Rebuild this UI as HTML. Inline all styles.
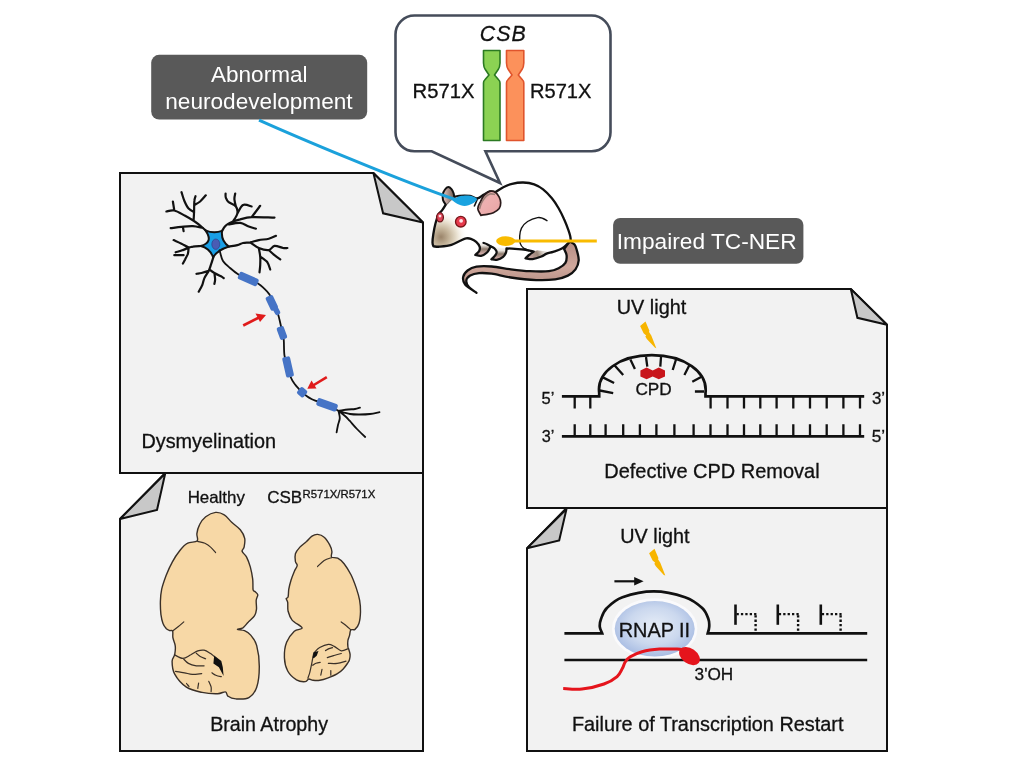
<!DOCTYPE html>
<html><head><meta charset="utf-8">
<style>
html,body{margin:0;padding:0;background:#fff;width:1024px;height:768px;overflow:hidden}
svg{position:absolute;left:0;top:0;display:block;will-change:transform}
text{font-family:"Liberation Sans",sans-serif;}
</style></head>
<body>
<svg width="1024" height="768" viewBox="0 0 1024 768">
<defs>

<linearGradient id="tailg" x1="0" y1="0" x2="0" y2="1">
<stop offset="0" stop-color="#b48c84"/><stop offset="0.5" stop-color="#d0a89c"/><stop offset="1" stop-color="#a8827a"/>
</linearGradient>
<linearGradient id="legg" gradientUnits="userSpaceOnUse" x1="0" y1="242" x2="0" y2="256">
<stop offset="0" stop-color="#ffffff"/><stop offset="0.25" stop-color="#e8e2dc"/><stop offset="0.5" stop-color="#8c7a6c"/><stop offset="0.8" stop-color="#c8a4a0"/><stop offset="1" stop-color="#d8b8b4"/>
</linearGradient>
<linearGradient id="legg2" gradientUnits="userSpaceOnUse" x1="0" y1="246.5" x2="0" y2="260">
<stop offset="0" stop-color="#ffffff"/><stop offset="0.3" stop-color="#e8e2dc"/><stop offset="0.55" stop-color="#8c7a6c"/><stop offset="0.85" stop-color="#c8a4a0"/><stop offset="1" stop-color="#d8b8b4"/>
</linearGradient>
<linearGradient id="legg3" gradientUnits="userSpaceOnUse" x1="550" y1="250" x2="530" y2="259">
<stop offset="0" stop-color="#ffffff"/><stop offset="0.35" stop-color="#d8d0c8"/><stop offset="0.6" stop-color="#9a8678"/><stop offset="1" stop-color="#c8a4a0"/>
</linearGradient>
<radialGradient id="snoutg" gradientUnits="userSpaceOnUse" cx="441" cy="237" r="27">
<stop offset="0" stop-color="#9a846a"/><stop offset="0.3" stop-color="#c4b49a"/><stop offset="0.6" stop-color="#eae2d2"/><stop offset="1" stop-color="#ffffff" stop-opacity="0"/>
</radialGradient>
<linearGradient id="bearg" x1="0" y1="0" x2="1" y2="0">
<stop offset="0" stop-color="#e8c8c4"/><stop offset="1" stop-color="#6a5a50"/>
</linearGradient>
<linearGradient id="fearg" x1="0" y1="0" x2="1" y2="1">
<stop offset="0" stop-color="#c8a8a0"/><stop offset="0.4" stop-color="#eeb0b0"/><stop offset="1" stop-color="#e8a4a4"/>
</linearGradient>

<radialGradient id="rnap" cx="0.5" cy="0.45" r="0.55">
<stop offset="0" stop-color="#e6edf7"/>
<stop offset="0.6" stop-color="#cbd8ee"/>
<stop offset="1" stop-color="#a9bde3"/>
</radialGradient>
</defs>
<g id="panels" stroke="#111" stroke-width="2" stroke-linejoin="miter" stroke-miterlimit="2" fill="#f2f2f2">
<path d="M120,173 L373.4,173 L423,222.5 L423,473 L120,473 Z"/>
<path d="M373.4,173 L383.1,213.3 L423,222.5 Z" fill="#c8c8c8"/>
<path d="M165.2,473 L423,473 L423,751 L120,751 L120,519 Z"/>
<path d="M165.2,473.5 L157,510 L120,519 Z" fill="#c8c8c8"/>
<path d="M527,289 L850.8,289 L887,324.7 L887,508 L527,508 Z"/>
<path d="M850.8,289 L857.4,317.8 L887,324.7 Z" fill="#c8c8c8"/>
<path d="M566.5,508 L887,508 L887,751 L527,751 L527,548.3 Z"/>
<path d="M566.5,509 L559.2,540.4 L527,548.3 Z" fill="#c8c8c8"/>
</g>
<rect x="151.2" y="54.8" width="216" height="64.7" rx="8" fill="#595959"/>
<rect x="613.1" y="218" width="190.3" height="45.8" rx="7" fill="#595959"/>
<path d="M414.5,15.5 L591.5,15.5 A19,19 0 0 1 610.5,34.5 L610.5,132.3 A19,19 0 0 1 591.5,151.3 L485.4,151.3 L500,183 L431.7,151.3 L414.5,151.3 A19,19 0 0 1 395.5,132.3 L395.5,34.5 A19,19 0 0 1 414.5,15.5 Z" fill="#fff" stroke="#454c5a" stroke-width="2.6" stroke-linejoin="miter"/>
<path d="M483.5,50.5 L500,50.5 L500,63 Q499.7,67.5 498.5,69 L494.5,75 L498.8,80 Q500,81 500,83 L500,140.5 L483.5,140.5 L483.5,83 Q483.5,81 484.7,80 L489.0,75 L485.0,69 Q483.8,67.5 483.5,63 Z" fill="#8bd253" stroke="#2b7a22" stroke-width="1.6" stroke-linejoin="round"/>
<path d="M506.5,50.5 L523.8,50.5 L523.8,63 Q523.5,67.5 522.3,69 L518.3,75 L522.5999999999999,80 Q523.8,81 523.8,83 L523.8,140.5 L506.5,140.5 L506.5,83 Q506.5,81 507.7,80 L512.0,75 L508.0,69 Q506.8,67.5 506.5,63 Z" fill="#fc915b" stroke="#e0542c" stroke-width="1.6" stroke-linejoin="round"/>
<g id="cpd" stroke="#111" fill="none">
<path d="M561.9,396.3 H599.2 V393 C596.5,372 620,355.2 651.8,355.2 C684,355.2 708,372 705.5,393 V396.3 H864.2" stroke-width="2.7"/>
<path d="M561.9,436.3 H864.2" stroke-width="2.7"/>
<path d="M574.7,396 V408.6 M590.3,396 V408.6 M710.6,396 V408.6 M727.5,396 V408.6 M744,396 V408.6 M760.3,396 V408.6 M776.6,396 V408.6 M793.3,396 V408.6 M810,396 V408.6 M826.7,396 V408.6 M843.4,396 V408.6 M860,396 V408.6" stroke-width="2.3"/>
<path d="M574.7,436.5 V424.2 M590.3,436.5 V424.2 M605.6,436.5 V424.2 M623.2,436.5 V424.2 M639.9,436.5 V424.2 M656.4,436.5 V424.2 M674.4,436.5 V424.2 M693.6,436.5 V424.2 M710.5,436.5 V424.2 M727.5,436.5 V424.2 M744,436.5 V424.2 M760.3,436.5 V424.2 M776.6,436.5 V424.2 M793.3,436.5 V424.2 M810,436.5 V424.2 M826.7,436.5 V424.2 M843.4,436.5 V424.2 M860,436.5 V424.2" stroke-width="2.3"/>
<path d="M599.8,390.5 L613.2,393.1 M602.4,377.1 L614.1,383 M614.7,365.4 L623.2,374.9 M630.4,359.5 L634.9,368.9 M646,357 L647.3,366.7 M661,357 L660.3,366.7 M676,359.5 L672.7,370 M689.6,364.7 L684.4,374.9 M702,376.5 L692.3,381.7 M704,391.5 L694.9,391.5" stroke-width="2.3"/>
</g>
<path d="M640.4,370.4 L646.6,367.5 L652.7,370.4 L658.8,367.5 L665,370.4 L665,376.4 L658.8,379.3 L652.7,376.4 L646.6,379.3 L640.4,376.4 Z" fill="#c8151b"/>
<path d="M640.1,325.9 L645.5,321.4 L649.5,331.0 L648.9,331.8 L651.3,335.5 L656.3,348.3 L654.8,347.6 L646.8,339.0 L645.3,336.5 L646.2,335.5 L643.6,333.2 Z" fill="#f7b500"/>
<path d="M649.1,553.2 L654.5,548.7 L658.5,558.3 L657.9,559.1 L660.3,562.8 L665.3,575.6 L663.8,574.9 L655.8,566.3 L654.3,563.8 L655.2,562.8 L652.6,560.5 Z" fill="#f7b500"/>
<g id="tx">
<ellipse cx="654.7" cy="628.8" rx="41.2" ry="29" fill="none" stroke="#fbfbfd" stroke-width="3" opacity="0.9"/>
<ellipse cx="654.7" cy="628.8" rx="40" ry="27.75" fill="url(#rnap)"/>
<path d="M564.4,633.4 H602.2 C601.8,632.3 600.0,629.3 599.8,626.9 C599.6,624.5 599.8,622.1 601.0,619.0 C602.2,615.9 603.3,611.6 606.9,608.0 C610.5,604.4 614.7,600.0 622.5,597.2 C630.3,594.4 643.3,591.3 653.8,591.3 C664.2,591.3 676.9,594.4 685.0,597.2 C693.1,600.0 698.3,604.4 702.2,608.0 C706.1,611.6 707.2,615.9 708.4,619.0 C709.6,622.1 709.3,624.5 709.2,626.9 C709.1,629.3 708.0,632.3 707.7,633.4 H867.2" fill="none" stroke="#111" stroke-width="2.7"/>
<path d="M564.4,660 H867.2" stroke="#111" stroke-width="2.7"/>
<path d="M614.4,581.3 H636" stroke="#111" stroke-width="2.2"/><path d="M634.2,577 L643.6,581.3 L634.2,585.6 Z" fill="#111"/>
<path d="M735.5,604.5 V624.8" stroke="#111" stroke-width="2.6"/>
<path d="M736.5,614.1 H756.6" stroke="#111" stroke-width="2.4" stroke-dasharray="2.3 2.1"/>
<path d="M755.6,615.2 V633" stroke="#111" stroke-width="2.4" stroke-dasharray="2.3 2.1"/>
<path d="M777.8,604.5 V624.8" stroke="#111" stroke-width="2.6"/>
<path d="M778.8,614.1 H799.1" stroke="#111" stroke-width="2.4" stroke-dasharray="2.3 2.1"/>
<path d="M798.1,615.2 V633" stroke="#111" stroke-width="2.4" stroke-dasharray="2.3 2.1"/>
<path d="M820.8,604.5 V624.8" stroke="#111" stroke-width="2.6"/>
<path d="M821.8,614.1 H841.6" stroke="#111" stroke-width="2.4" stroke-dasharray="2.3 2.1"/>
<path d="M840.6,615.2 V633" stroke="#111" stroke-width="2.4" stroke-dasharray="2.3 2.1"/>
<path d="M563.2,688.6 C566.3,688.7 575.2,689.9 582.0,689.1 C588.8,688.3 598.1,686.1 604.0,684.0 C609.9,681.9 614.1,679.2 617.1,676.6 C620.1,674.0 620.9,671.0 622.3,668.6 C623.6,666.2 623.9,664.0 625.2,662.0 C626.5,660.0 627.5,658.5 630.3,656.8 C633.1,655.1 637.1,653.0 642.0,651.7 C646.9,650.4 653.7,649.5 659.6,649.1 C665.5,648.7 673.1,649.0 677.2,649.1 C681.3,649.2 682.9,649.9 684.0,650.0" fill="none" stroke="#e5141c" stroke-width="3"/>
<ellipse cx="689.5" cy="656.1" rx="11.5" ry="7.6" transform="rotate(35 689.5 656.1)" fill="#e5141c"/>
</g>
<path d="M215.6,512.4 C212.5,512.7 208.4,514.7 205.7,516.8 C203.0,518.9 200.9,522.0 199.5,524.8 C198.0,527.6 197.2,530.9 196.9,533.6 C196.5,536.3 198.7,539.3 197.1,540.9 C195.5,542.5 190.1,541.7 187.2,543.4 C184.3,545.0 182.1,547.7 179.7,550.8 C177.2,553.9 174.6,557.8 172.4,561.9 C170.1,566.0 167.9,571.0 166.1,575.5 C164.4,580.1 162.7,584.8 161.7,589.1 C160.8,593.4 160.5,597.1 160.4,601.3 C160.3,605.5 160.5,610.6 160.9,614.3 C161.4,618.0 162.1,621.1 163.0,623.4 C163.9,625.8 165.1,627.2 166.1,628.4 C167.2,629.5 168.4,630.0 169.5,630.5 C170.6,630.9 172.1,629.8 172.6,631.0 C173.2,632.2 172.5,635.3 172.9,637.7 C173.3,640.2 174.9,642.7 175.2,645.6 C175.6,648.4 175.2,652.1 174.7,654.7 C174.2,657.3 172.1,657.9 172.1,661.2 C172.1,664.4 172.3,669.8 174.7,674.2 C177.1,678.5 181.9,684.2 186.4,687.2 C191.0,690.2 196.9,691.3 202.1,692.4 C207.3,693.5 213.8,693.8 217.7,693.7 C221.6,693.6 223.7,691.4 225.5,691.9 C227.2,692.3 226.3,695.1 228.1,696.3 C229.8,697.5 232.4,698.7 235.9,698.9 C239.4,699.1 245.4,699.6 248.9,697.6 C252.4,695.7 255.0,692.4 256.7,687.2 C258.5,682.0 259.3,673.3 259.3,666.4 C259.3,659.4 258.1,650.8 256.7,645.6 C255.3,640.3 252.8,637.6 250.7,635.1 C248.7,632.7 246.7,631.7 244.5,630.7 C242.3,629.8 237.7,629.9 237.5,629.4 C237.2,628.9 241.1,629.1 242.9,627.9 C244.7,626.6 246.4,623.9 248.4,621.9 C250.3,619.8 253.3,617.7 254.6,615.6 C256.0,613.5 256.2,611.7 256.5,609.1 C256.7,606.6 256.0,602.6 256.2,600.3 C256.4,597.9 257.9,596.2 257.8,594.8 C257.6,593.4 255.9,592.5 255.2,591.7 C254.4,590.8 253.5,591.9 253.1,589.9 C252.7,587.8 253.2,583.0 252.7,579.2 C252.2,575.4 251.3,570.6 250.3,566.9 C249.3,563.3 247.9,559.7 246.6,557.1 C245.2,554.5 242.6,553.0 242.1,551.3 C241.7,549.7 243.7,549.3 244.1,547.2 C244.5,545.0 245.3,541.2 244.7,538.3 C244.1,535.4 242.5,532.4 240.3,529.7 C238.2,527.1 234.4,524.8 231.7,522.3 C229.1,519.8 227.0,516.5 224.3,514.9 C221.6,513.2 218.7,512.1 215.6,512.4 Z" fill="#f7d8a6" stroke="#3a3028" stroke-width="1.4" stroke-linejoin="round"/>
<path d="M197.6,541.4 C198.8,541.8 202.8,542.4 204.9,543.3 C207.1,544.3 208.9,545.5 210.6,547.1 C212.4,548.6 214.8,551.7 215.6,552.6 M172.6,631.0 C173.6,630.3 176.2,628.3 178.1,626.8 C180.0,625.3 182.9,622.7 183.8,621.9 M174.4,654.8 C175.8,655.4 180.3,658.4 183.0,658.4 C185.7,658.4 188.3,656.0 190.8,654.8 C193.3,653.5 195.6,651.7 197.8,650.9 C200.0,650.1 202.0,649.8 204.1,650.2 C206.2,650.6 208.6,652.3 210.3,653.3 C212.0,654.3 213.5,655.9 214.2,656.4 M183.0,658.4 C183.9,659.2 186.2,662.2 188.4,663.4 C190.6,664.6 193.7,665.4 196.3,665.8 C198.9,666.2 202.8,665.8 204.1,665.8 M196.3,653.3 C197.0,653.8 198.6,655.5 200.2,656.4 C201.8,657.3 204.7,658.4 205.6,658.8 M175.5,671.3 C177.0,671.5 181.7,672.3 184.5,672.8 C187.3,673.3 189.4,674.3 192.3,674.4 C195.2,674.5 200.1,673.7 201.7,673.6 M211.9,672.8 C212.6,673.2 214.2,674.6 215.8,675.2 C217.4,675.9 220.4,676.5 221.3,676.7 M198.6,683.0 C198.5,683.9 197.9,687.5 197.8,688.4 M208.8,681.4 C209.2,682.3 210.7,685.2 211.1,686.9 C211.5,688.6 211.1,690.8 211.1,691.6 M186.5,683.5 C186.9,684.0 188.6,686.0 189.0,686.5" fill="none" stroke="#3a3028" stroke-width="1.2" stroke-linecap="round"/>
<path d="M214.2,655.6 L221.3,661.1 L222.8,667.3 L223.6,675.9 L218.9,667.3 L213.4,663.4 Z" fill="#111"/>
<path d="M317.6,534.4 C315.5,534.2 313.9,534.9 312.0,536.1 C310.2,537.3 308.5,539.7 306.5,541.6 C304.5,543.4 301.7,545.1 299.9,547.1 C298.0,549.2 296.2,551.4 295.4,553.8 C294.7,556.2 295.1,559.6 295.4,561.5 C295.7,563.5 297.4,563.8 297.2,565.5 C297.0,567.1 295.4,569.0 294.3,571.5 C293.3,573.9 291.9,577.4 291.0,580.3 C290.1,583.3 289.3,586.4 288.8,589.2 C288.3,591.9 288.6,595.3 288.1,596.9 C287.7,598.5 286.2,597.8 286.2,598.7 C286.1,599.6 287.4,600.3 287.7,602.4 C288.0,604.5 287.4,608.3 288.1,611.3 C288.9,614.2 289.8,617.4 292.1,620.1 C294.4,622.9 301.7,626.0 302.1,627.9 C302.4,629.7 296.9,628.8 294.3,631.2 C291.8,633.6 288.3,637.8 286.6,642.3 C284.9,646.7 284.2,652.9 284.4,657.7 C284.6,662.5 285.7,667.3 287.7,671.0 C289.7,674.7 293.6,678.1 296.5,679.9 C299.5,681.6 303.4,681.8 305.4,681.6 C307.4,681.5 307.4,679.2 308.7,679.0 C310.0,678.8 311.3,680.1 313.1,680.3 C315.0,680.5 317.4,680.7 319.8,680.3 C322.2,679.9 324.6,679.2 327.5,678.1 C330.4,677.0 334.5,675.4 337.0,673.9 C339.6,672.4 341.3,671.0 343.0,669.2 C344.7,667.5 346.4,665.0 347.4,663.5 C348.5,661.9 349.0,661.4 349.4,660.0 C349.9,658.5 350.2,656.4 350.1,654.6 C350.0,652.9 349.1,650.7 348.8,649.3 C348.4,648.0 348.0,648.2 347.9,646.7 C347.7,645.2 347.6,642.4 347.9,640.5 C348.2,638.6 349.2,636.9 349.6,635.2 C350.1,633.4 349.9,630.8 350.8,629.9 C351.6,628.9 353.6,630.5 355.0,629.4 C356.3,628.4 358.0,626.4 358.9,623.5 C359.9,620.5 360.4,615.6 360.5,611.7 C360.6,607.9 360.3,604.2 359.6,600.2 C358.9,596.3 357.7,592.3 356.3,588.1 C354.8,583.8 353.0,578.8 351.0,574.8 C348.9,570.7 346.3,566.5 344.1,563.7 C341.9,561.0 339.8,559.3 337.7,558.2 C335.6,557.1 332.5,558.2 331.5,557.1 C330.5,556.0 332.2,553.6 331.9,551.5 C331.7,549.5 331.0,547.3 329.7,544.9 C328.4,542.5 326.2,538.9 324.2,537.2 C322.2,535.4 319.6,534.6 317.6,534.4 Z" fill="#f7d8a6" stroke="#3a3028" stroke-width="1.4" stroke-linejoin="round"/>
<path d="M317.6,566.5 C318.7,565.5 321.9,561.9 324.2,560.4 C326.5,558.9 330.3,558.1 331.5,557.7 M341.2,621.9 C342.1,622.5 344.7,624.3 346.3,625.7 C347.9,627.0 350.0,629.2 350.8,629.9 M313.8,652.9 C314.8,652.0 317.3,649.0 319.7,647.6 C322.1,646.2 326.0,644.6 328.4,644.4 C330.8,644.2 332.1,645.3 334.3,646.4 C336.5,647.5 339.0,650.4 341.3,650.8 C343.6,651.1 347.2,648.9 348.4,648.5 M327.3,657.6 C328.4,657.2 331.7,656.2 334.0,655.5 C336.3,654.8 340.1,653.8 341.3,653.5 M325.5,650.6 C326.1,650.3 327.8,649.1 329.0,648.6 C330.2,648.1 331.9,647.8 332.5,647.6 M312.6,665.2 C313.2,664.9 314.7,663.7 316.0,663.2 C317.3,662.7 319.5,662.4 320.2,662.3 M328.4,663.4 C329.9,663.4 334.3,663.8 337.2,663.4 C340.1,663.0 344.5,661.5 346.0,661.1 M322.0,669.3 C321.8,670.3 321.0,674.2 320.8,675.2 M330.8,670.5 C330.8,671.3 330.8,674.4 330.8,675.2 M313.8,652.9 C313.6,653.9 313.0,656.8 312.6,658.8 C312.2,660.8 311.9,662.9 311.4,665.2 C310.9,667.5 310.3,670.6 309.7,672.8 C309.1,674.9 308.2,677.2 307.9,678.1" fill="none" stroke="#3a3028" stroke-width="1.2" stroke-linecap="round"/>
<path d="M313.8,652.3 L318.5,651.1 L316.7,655.8 L313.8,658.2 L312.6,657.6 Z" fill="#111"/>
<path d="M205.4,230.2 C204.3,229.3 200.6,225.9 198.7,224.4 C196.7,222.8 195.9,222.2 193.6,220.8 C191.4,219.4 188.3,217.5 185.1,215.8 C181.8,214.1 177.4,211.2 174.3,210.5 C171.2,209.8 167.8,211.3 166.4,211.5 M174.3,210.5 C174.1,209.0 173.1,203.0 172.9,201.5 M193.6,220.8 C193.7,219.1 194.0,214.1 194.1,210.8 C194.2,207.4 194.1,203.2 194.4,200.7 C194.6,198.3 195.3,196.9 195.5,196.2 M194.4,205.0 C195.3,204.4 198.2,203.1 200.1,201.5 C202.0,199.8 204.9,196.3 205.8,195.3 M194.1,212.2 C193.2,211.6 190.3,210.5 188.6,208.6 C187.0,206.7 185.5,203.5 184.3,200.7 C183.1,198.0 182.0,193.6 181.5,192.2 M202.9,227.9 C201.3,227.7 196.5,226.4 192.9,226.2 C189.3,226.0 185.2,226.5 181.5,226.8 C177.8,227.1 172.5,228.0 170.7,228.2 M182.9,226.9 C183.0,227.6 183.5,230.4 183.6,231.1 M200.7,246.0 C199.4,246.1 194.9,246.3 192.9,246.6 C190.9,246.8 190.5,247.8 188.6,247.3 C186.7,246.8 184.0,244.9 181.5,243.7 C179.0,242.5 174.9,240.7 173.6,240.1 M188.6,247.3 C187.7,247.8 185.1,249.3 182.9,250.1 C180.8,251.0 176.9,251.9 175.7,252.3 M188.6,247.3 C188.5,248.4 188.5,251.7 187.9,253.7 C187.3,255.7 185.9,257.8 185.1,259.4 C184.2,261.1 183.3,262.8 182.9,263.5 M183.6,255.2 C182.1,255.2 175.9,255.2 174.3,255.2 M213.3,257.4 C212.9,258.7 211.6,262.9 210.8,265.2 C210.1,267.4 209.7,268.8 208.7,270.9 C207.6,273.0 205.5,275.7 204.4,278.1 C203.3,280.4 203.2,282.9 202.2,285.2 C201.3,287.5 199.3,290.6 198.7,291.7 M208.7,270.9 C207.5,271.3 203.5,272.6 201.5,273.0 C199.5,273.5 197.3,273.6 196.5,273.8 M209.4,269.5 C210.2,270.1 212.4,271.9 214.4,273.0 C216.4,274.2 220.0,275.8 221.6,276.6 C223.1,277.5 223.4,277.8 223.7,278.1 M214.4,273.0 C214.5,274.1 215.1,277.7 215.1,279.5 C215.1,281.3 214.5,283.1 214.4,283.8 M222.1,230.8 C222.5,230.2 223.6,228.3 224.4,227.2 C225.3,226.2 225.9,225.3 227.3,224.4 C228.7,223.4 230.9,222.3 233.0,221.5 C235.2,220.7 237.1,220.1 240.2,219.4 C243.3,218.6 245.9,217.5 251.6,217.2 C257.4,216.9 270.7,217.6 274.5,217.6 M233.0,221.5 C233.7,220.2 236.8,216.1 237.3,213.6 C237.8,211.1 237.3,208.4 235.9,206.5 C234.4,204.6 230.4,203.6 228.7,202.2 C227.0,200.7 226.4,199.3 225.9,197.9 C225.3,196.5 225.6,194.3 225.6,193.6 M235.9,206.5 C235.6,205.3 234.6,201.5 234.4,199.3 C234.3,197.2 235.0,194.5 235.2,193.6 M237.3,213.6 C238.3,212.2 240.6,206.2 243.0,205.0 C245.4,203.8 250.2,206.2 251.6,206.5 M251.6,217.2 C252.3,216.3 254.5,213.4 255.9,211.5 C257.4,209.6 259.5,206.7 260.2,205.8 M228.7,224.4 C230.6,224.1 236.8,222.6 240.2,222.9 C243.5,223.3 246.1,225.6 248.8,226.5 C251.4,227.5 254.7,228.3 255.9,228.7 M228.9,246.6 C230.3,246.3 234.9,245.7 237.3,245.1 C239.7,244.5 240.9,243.5 243.0,243.0 C245.2,242.5 247.6,242.7 250.2,242.3 C252.8,241.8 255.7,240.7 258.8,240.1 C261.9,239.5 265.9,239.4 268.8,238.7 C271.7,238.0 274.8,236.3 276.0,235.8 M250.2,242.3 C251.6,243.2 255.7,246.7 258.8,248.0 C261.9,249.3 266.2,250.5 268.8,250.1 C271.4,249.8 272.1,246.2 274.5,245.8 C276.9,245.5 281.0,247.6 283.1,248.0 C285.3,248.4 286.7,248.0 287.4,248.0 M258.8,248.0 C259.0,249.4 260.0,253.7 260.2,256.6 C260.5,259.4 260.3,262.5 260.2,265.2 C260.1,267.8 259.6,271.1 259.5,272.3 M268.8,250.1 C269.8,251.0 272.6,253.6 274.5,255.2 C276.4,256.7 279.3,258.7 280.3,259.4 M260.2,256.6 C261.4,257.5 265.7,260.2 267.4,262.3 C269.0,264.5 269.8,268.3 270.2,269.5" fill="none" stroke="#111" stroke-width="2.2" stroke-linecap="round" stroke-linejoin="round"/>
<path d="M205.4,230.3 Q213.65,234 222.1,230.9 Q220.7,240.7 228.9,246.5 Q216.95,250.45 213.2,257.4 Q210.05,248.5 200.7,246 Q214,242.3 205.4,230.3 Z" fill="#1a9fe6" stroke="#111" stroke-width="2" stroke-linejoin="round"/>
<ellipse cx="215.8" cy="244.2" rx="4" ry="5.2" fill="#4a5cb4" stroke="#2a3a80" stroke-width="0.6"/>
<path d="M219.5,249.5 C219.6,250.0 219.5,250.4 220.1,252.3 C220.7,254.2 221.3,258.3 223.0,260.9 C224.7,263.5 227.5,265.7 230.1,268.0 C232.7,270.3 235.5,272.7 238.5,274.5 C241.5,276.3 244.8,277.5 248.0,279.0 C251.2,280.5 255.3,281.9 258.0,283.5 C260.7,285.1 262.1,286.6 264.0,288.4 C265.9,290.2 267.6,291.7 269.3,294.3 C271.0,296.9 272.6,300.7 274.0,304.0 C275.4,307.3 276.8,310.3 278.0,314.0 C279.2,317.7 280.2,323.0 281.0,326.2 C281.8,329.4 282.0,330.6 282.5,333.0 C283.0,335.4 283.5,336.7 283.8,340.5 C284.1,344.3 283.8,351.2 284.5,355.6 C285.2,360.0 286.9,363.3 288.0,367.0 C289.1,370.7 289.9,374.8 291.0,377.7 C292.1,380.6 293.6,382.4 294.9,384.3 C296.2,386.2 297.6,387.5 298.8,388.8 C300.0,390.1 300.8,390.9 302.1,392.1 C303.4,393.3 305.0,394.8 306.6,396.0 C308.2,397.2 310.1,398.3 311.9,399.2 C313.6,400.1 314.6,400.2 317.1,401.2 C319.6,402.2 323.4,403.4 327.0,405.0 C330.6,406.6 336.6,409.9 338.5,410.9" fill="none" stroke="#111" stroke-width="1.8"/>
<path d="M338.5,410.9 C340.1,410.7 345.2,409.8 348.0,409.5 C350.8,409.2 353.0,409.3 355.0,409.0 C357.0,408.7 359.2,407.9 360.0,407.7 M338.5,410.9 C340.4,411.4 346.4,413.4 350.0,414.0 C353.6,414.6 356.7,414.5 360.0,414.5 C363.3,414.5 366.8,414.4 370.0,414.0 C373.2,413.6 377.9,412.5 379.5,412.2 M338.5,410.9 C339.6,411.8 343.1,414.4 345.0,416.0 C346.9,417.6 347.6,418.5 349.6,420.7 C351.6,422.9 354.4,426.3 357.0,429.0 C359.6,431.7 363.8,435.7 365.2,437.0 M338.5,410.9 C338.7,412.1 339.9,415.8 339.8,418.1 C339.7,420.5 338.5,422.6 338.0,425.0 C337.5,427.4 336.8,431.2 336.6,432.4" fill="none" stroke="#111" stroke-width="1.8" stroke-linecap="round"/>
<rect x="-10.3" y="-4.0" width="20.7" height="8.0" rx="2" transform="translate(248.2,279.0) rotate(24.0)" fill="#4674c6"/>
<rect x="-7.5" y="-4.0" width="15.0" height="8.0" rx="2" transform="translate(271.8,302.8) rotate(64.3)" fill="#4674c6"/>
<rect x="-4.2" y="-2.8" width="8.5" height="5.5" rx="2" transform="translate(276.5,310.8) rotate(61.9)" fill="#4674c6"/>
<rect x="-6.6" y="-3.8" width="13.2" height="7.5" rx="2" transform="translate(281.9,333.0) rotate(70.1)" fill="#4674c6"/>
<rect x="-10.4" y="-4.0" width="20.7" height="8.0" rx="2" transform="translate(288.1,367.0) rotate(77.2)" fill="#4674c6"/>
<rect x="-4.3" y="-4.2" width="8.5" height="8.5" rx="2" transform="translate(302.2,392.2) rotate(40.2)" fill="#4674c6"/>
<rect x="-10.7" y="-4.0" width="21.3" height="8.0" rx="2" transform="translate(327.1,404.8) rotate(19.5)" fill="#4674c6"/>
<path d="M243.2,325.5 L259,317.5" stroke="#e01b1b" stroke-width="2.6"/><path d="M266,315.1 L255.5,313.5 L260,322 Z" fill="#e01b1b"/>
<path d="M326.8,377.1 L313,385.5" stroke="#e01b1b" stroke-width="2.6"/><path d="M307.3,388.8 L311.5,380.5 L316.5,388.5 Z" fill="#e01b1b"/>
<path d="M569.5,241.5 C570.3,242.0 573.3,243.1 574.5,244.5 C575.7,245.9 576.1,247.5 576.8,250.2 C577.5,252.8 578.9,257.2 578.7,260.4 C578.5,263.6 577.3,266.8 575.5,269.3 C573.7,271.8 571.3,273.9 567.9,275.6 C564.5,277.3 560.5,278.6 555.2,279.4 C549.9,280.1 543.6,280.4 536.2,280.1 C528.8,279.8 518.2,278.6 510.8,277.5 C503.4,276.4 497.0,274.4 491.7,273.7 C486.4,273.0 482.6,272.8 479.0,273.1 C475.4,273.4 472.3,274.3 470.2,275.6 C468.1,276.9 466.5,278.8 466.3,280.7 C466.1,282.6 467.2,285.0 468.9,287.0 C470.6,289.0 475.2,291.8 476.5,292.8 C474.6,291.4 467.3,287.1 465.1,284.5 C462.9,281.9 462.8,279.2 463.2,276.9 C463.6,274.6 465.4,272.2 467.6,270.5 C469.8,268.8 472.5,267.4 476.5,266.7 C480.5,266.0 486.0,266.1 491.7,266.5 C497.4,266.9 504.5,268.5 510.8,269.3 C517.1,270.1 523.4,270.9 529.8,271.2 C536.1,271.5 544.0,271.7 548.9,271.2 C553.8,270.7 556.2,269.4 559.0,268.0 C561.8,266.6 564.1,265.0 565.4,262.9 C566.7,260.8 566.8,257.6 566.6,255.3 C566.4,253.0 564.5,250.1 564.1,249.0 Z" fill="url(#tailg)" stroke="#111" stroke-width="2.3" stroke-linejoin="round"/>
<path d="M446.5,203.5 C445.8,204.6 443.5,208.4 442.2,210.2 C440.9,212.0 439.6,212.1 438.5,214.4 C437.4,216.7 436.3,220.4 435.4,223.8 C434.5,227.1 433.8,231.1 433.3,234.2 C432.8,237.3 432.5,240.5 432.5,242.5 C432.5,244.5 433.3,245.8 433.5,246.4 C434.5,246.4 436.7,246.9 439.7,246.7 C442.7,246.4 448.0,245.9 451.4,244.9 C454.8,243.9 457.8,241.9 460.2,240.8 C462.6,239.7 464.3,238.7 466.1,238.4 C467.9,238.1 469.2,238.2 470.9,238.8 C472.6,239.4 474.8,240.5 476.2,241.8 C477.6,243.1 479.1,245.1 479.6,246.6 C480.1,248.1 479.9,249.6 479.2,251.0 C478.5,252.4 475.9,254.2 475.3,254.9 C476.3,255.1 479.2,256.3 481.1,255.9 C483.1,255.5 485.6,253.7 487.0,252.5 C488.4,251.3 489.0,249.7 489.6,248.6 C490.2,247.5 490.4,246.6 490.5,246.2 C491.1,246.5 493.3,247.3 494.3,248.3 C495.3,249.3 496.6,250.7 496.7,252.0 C496.8,253.3 495.7,254.7 494.8,255.9 C493.9,257.1 492.0,258.7 491.4,259.3 C492.3,259.4 494.8,260.2 496.7,259.8 C498.6,259.4 501.6,258.1 503.1,256.9 C504.7,255.7 505.4,253.9 506.0,252.5 C506.6,251.1 506.4,249.0 506.5,248.3 C507.9,248.4 512.1,248.7 515.0,248.9 C517.9,249.1 521.4,249.2 523.8,249.5 C526.2,249.8 528.0,250.3 529.6,250.6 C531.2,250.9 533.0,251.3 533.7,251.5 C532.9,252.1 530.4,253.9 529.0,255.0 C527.6,256.1 526.1,257.8 525.5,258.3 C526.7,258.4 530.0,259.4 532.6,259.1 C535.2,258.8 539.1,257.4 541.4,256.5 C543.7,255.6 544.6,254.4 546.6,253.6 C548.6,252.8 550.6,252.6 553.1,251.8 C555.6,251.0 559.5,250.0 561.9,248.6 C564.3,247.2 566.2,244.9 567.7,243.6 C569.2,242.2 570.3,241.0 570.8,240.5 C570.7,239.8 570.6,237.7 570.2,236.0 C569.8,234.3 569.5,233.1 568.5,230.3 C567.5,227.5 565.8,222.9 564.1,219.2 C562.5,215.5 560.6,211.7 558.6,208.2 C556.6,204.7 554.5,201.3 551.9,198.2 C549.3,195.1 546.0,191.7 543.1,189.4 C540.2,187.1 537.5,185.6 534.2,184.4 C530.9,183.2 526.9,182.6 523.2,182.5 C519.5,182.4 515.4,183.0 512.1,183.8 C508.8,184.6 506.1,185.8 503.3,187.2 C500.5,188.6 496.8,191.3 495.5,192.1 C494.6,192.0 491.7,191.0 489.8,191.4 C487.9,191.8 486.1,193.3 484.0,194.5 C481.9,195.7 479.3,198.2 477.0,198.5 C474.7,198.8 472.8,196.4 470.0,196.0 C467.2,195.6 462.8,195.6 460.0,195.8 C457.2,196.1 455.2,196.2 453.0,197.5 C450.8,198.8 447.6,202.5 446.5,203.5 Z" fill="#fff"/>
<path d="M476.2,241.8 C476.8,242.6 479.1,245.1 479.6,246.6 C480.1,248.1 479.9,249.6 479.2,251.0 C478.5,252.4 475.9,254.2 475.3,254.9 C476.3,255.1 479.2,256.3 481.1,255.9 C483.1,255.5 485.6,253.7 487.0,252.5 C488.4,251.3 489.0,249.7 489.6,248.6 C490.2,247.5 490.4,246.6 490.5,246.2 C489.8,245.8 487.2,244.2 486.0,243.6 C484.8,243.0 484.6,242.9 483.0,242.6 C481.4,242.3 477.3,241.9 476.2,241.8 Z" fill="url(#legg)"/>
<path d="M490.5,246.2 C491.1,246.5 493.3,247.3 494.3,248.3 C495.3,249.3 496.6,250.7 496.7,252.0 C496.8,253.3 495.7,254.7 494.8,255.9 C493.9,257.1 492.0,258.7 491.4,259.3 C492.3,259.4 494.8,260.2 496.7,259.8 C498.6,259.4 501.6,258.1 503.1,256.9 C504.7,255.7 505.4,253.9 506.0,252.5 C506.6,251.1 506.4,249.0 506.5,248.3 C505.1,248.1 500.7,247.5 498.0,247.2 C495.3,246.8 491.8,246.4 490.5,246.2 Z" fill="url(#legg2)"/>
<path d="M537.3,250.3 C536.7,250.5 535.1,250.7 533.7,251.5 C532.3,252.3 530.4,253.9 529.0,255.0 C527.6,256.1 526.1,257.8 525.5,258.3 C526.7,258.4 530.0,259.4 532.6,259.1 C535.2,258.8 539.1,257.4 541.4,256.5 C543.7,255.6 544.6,254.4 546.6,253.6 C548.6,252.8 552.0,252.1 553.1,251.8 C551.8,251.7 547.6,251.6 545.0,251.3 C542.4,251.1 538.6,250.5 537.3,250.3 Z" fill="url(#legg3)"/>
<path d="M445,206 L441.5,211.4 L436.8,222.6 L434.4,229.6 L432.7,237.8 L432.4,243.1 L433.3,246.6 L439.7,246.6 L451.4,244.9 L460.2,240.8 L466.1,238.4 L472,236 L470,214 L456,204 Z" fill="url(#snoutg)"/>
<path d="M446.5,203.5 C445.8,204.6 443.5,208.4 442.2,210.2 C440.9,212.0 439.6,212.1 438.5,214.4 C437.4,216.7 436.3,220.4 435.4,223.8 C434.5,227.1 433.8,231.1 433.3,234.2 C432.8,237.3 432.5,240.5 432.5,242.5 C432.5,244.5 433.3,245.8 433.5,246.4 C434.5,246.4 436.7,246.9 439.7,246.7 C442.7,246.4 448.0,245.9 451.4,244.9 C454.8,243.9 457.8,241.9 460.2,240.8 C462.6,239.7 464.3,238.7 466.1,238.4 C467.9,238.1 469.2,238.2 470.9,238.8 C472.6,239.4 474.8,240.5 476.2,241.8 C477.6,243.1 479.1,245.1 479.6,246.6 C480.1,248.1 479.9,249.6 479.2,251.0 C478.5,252.4 475.9,254.2 475.3,254.9 C476.3,255.1 479.2,256.3 481.1,255.9 C483.1,255.5 485.6,253.7 487.0,252.5 C488.4,251.3 489.0,249.7 489.6,248.6 C490.2,247.5 490.4,246.6 490.5,246.2 C491.1,246.5 493.3,247.3 494.3,248.3 C495.3,249.3 496.6,250.7 496.7,252.0 C496.8,253.3 495.7,254.7 494.8,255.9 C493.9,257.1 492.0,258.7 491.4,259.3 C492.3,259.4 494.8,260.2 496.7,259.8 C498.6,259.4 501.6,258.1 503.1,256.9 C504.7,255.7 505.4,253.9 506.0,252.5 C506.6,251.1 506.4,249.0 506.5,248.3 C507.9,248.4 512.1,248.7 515.0,248.9 C517.9,249.1 521.4,249.2 523.8,249.5 C526.2,249.8 528.0,250.3 529.6,250.6 C531.2,250.9 533.0,251.3 533.7,251.5 C532.9,252.1 530.4,253.9 529.0,255.0 C527.6,256.1 526.1,257.8 525.5,258.3 C526.7,258.4 530.0,259.4 532.6,259.1 C535.2,258.8 539.1,257.4 541.4,256.5 C543.7,255.6 544.6,254.4 546.6,253.6 C548.6,252.8 550.6,252.6 553.1,251.8 C555.6,251.0 559.5,250.0 561.9,248.6 C564.3,247.2 566.2,244.9 567.7,243.6 C569.2,242.2 570.3,241.0 570.8,240.5 C570.7,239.8 570.6,237.7 570.2,236.0 C569.8,234.3 569.5,233.1 568.5,230.3 C567.5,227.5 565.8,222.9 564.1,219.2 C562.5,215.5 560.6,211.7 558.6,208.2 C556.6,204.7 554.5,201.3 551.9,198.2 C549.3,195.1 546.0,191.7 543.1,189.4 C540.2,187.1 537.5,185.6 534.2,184.4 C530.9,183.2 526.9,182.6 523.2,182.5 C519.5,182.4 515.4,183.0 512.1,183.8 C508.8,184.6 506.1,185.8 503.3,187.2 C500.5,188.6 496.8,191.3 495.5,192.1 C494.6,192.0 491.7,191.0 489.8,191.4 C487.9,191.8 486.1,193.3 484.0,194.5 C481.9,195.7 479.3,198.2 477.0,198.5 C474.7,198.8 472.8,196.4 470.0,196.0 C467.2,195.6 462.8,195.6 460.0,195.8 C457.2,196.1 455.2,196.2 453.0,197.5 C450.8,198.8 447.6,202.5 446.5,203.5 Z" fill="none" stroke="#111" stroke-width="2.3" stroke-linejoin="round"/>
<path d="M483.4,242.9 C484.0,243.1 485.8,243.6 487.0,244.2 C488.2,244.8 489.9,245.9 490.5,246.2" fill="none" stroke="#111" stroke-width="2.1" stroke-linecap="round"/>
<path d="M547.5,220.9 C546.8,220.5 544.6,219.1 543.0,218.5 C541.4,217.9 540.2,217.1 537.6,217.6 C535.0,218.1 530.3,219.8 527.6,221.5 C524.9,223.2 522.8,225.7 521.5,228.1 C520.2,230.5 519.9,233.4 519.7,236.0 C519.5,238.6 519.6,241.5 520.3,243.6 C521.0,245.7 522.2,247.1 523.8,248.3 C525.3,249.5 528.6,250.2 529.6,250.6" fill="none" stroke="#111" stroke-width="1.4"/>
<path d="M446.0,205.0 C445.5,204.2 443.5,201.8 443.0,200.0 C442.5,198.2 442.6,195.9 442.9,194.2 C443.2,192.4 444.1,190.7 445.0,189.5 C445.9,188.3 447.2,187.2 448.3,187.1 C449.4,187.0 450.6,188.2 451.5,189.2 C452.4,190.2 453.0,191.6 453.5,193.0 C454.0,194.4 454.2,196.8 454.4,197.5" fill="url(#bearg)" stroke="#111" stroke-width="2" stroke-linejoin="round"/>
<path d="M480.9,215.3 C480.4,214.2 477.9,210.8 477.8,208.6 C477.7,206.3 479.3,204.0 480.4,201.8 C481.4,199.6 482.5,197.2 484.1,195.5 C485.7,193.8 487.9,191.9 489.8,191.4 C491.7,190.9 493.9,191.5 495.5,192.4 C497.1,193.3 498.3,195.4 499.2,197.1 C500.1,198.8 500.7,200.9 500.7,202.8 C500.7,204.7 500.4,206.9 499.2,208.6 C498.0,210.2 495.4,211.8 493.4,212.7 C491.4,213.6 489.3,213.9 487.2,214.3 C485.1,214.7 481.9,215.1 480.9,215.3 Z" fill="url(#fearg)" stroke="#2a1a1a" stroke-width="1.7" stroke-linejoin="round"/>
<path d="M479.5,209.0 C479.8,208.0 480.5,205.0 481.5,203.0 C482.5,201.0 484.1,198.5 485.5,197.0 C486.9,195.5 488.4,194.4 490.0,194.0 C491.6,193.6 494.2,194.4 495.0,194.5" fill="none" stroke="#7a6a60" stroke-width="1.6" opacity="0.7"/>
<path d="M477.3,199.2 L474.2,206.5" stroke="#111" stroke-width="1.6"/>
<ellipse cx="440" cy="217.3" rx="3.4" ry="4.6" fill="#dc4456" stroke="#6a1418" stroke-width="1.3"/>
<circle cx="440" cy="216.1" r="1.4" fill="#fbe0e4"/>
<circle cx="460.8" cy="221.7" r="5.3" fill="#e63a4c" stroke="#7a1418" stroke-width="1.3"/>
<circle cx="461.1" cy="220.8" r="1.9" fill="#fde6ea"/>
<path d="M259,120.1 C290,134 400,181 458,200.5" fill="none" stroke="#1ba1db" stroke-width="3"/>
<path d="M452.0,200.0 C452.9,199.5 455.7,197.9 457.1,197.2 C458.5,196.5 458.6,196.2 460.5,195.9 C462.4,195.6 466.1,195.2 468.6,195.5 C471.1,195.8 474.0,196.8 475.4,197.6 C476.8,198.4 477.3,199.3 476.7,200.3 C476.1,201.3 474.0,202.8 472.0,203.7 C470.0,204.6 467.1,206.0 464.6,206.0 C462.1,206.0 459.2,204.7 457.1,203.7 C455.0,202.7 452.9,200.6 452.0,200.0 Z" fill="#1aa3e0"/>
<path d="M512,241 H596.8" stroke="#f9bb00" stroke-width="2.8"/>
<ellipse cx="505.7" cy="241.1" rx="9.6" ry="4.8" fill="#f9bb00"/>
<g id="texts">
<text transform="translate(211.00,81.8)" font-size="22.55" fill="#fff">Abnormal</text>
<text transform="translate(165.24,109.4)" font-size="22.64" fill="#fff">neurodevelopment</text>
<text transform="translate(616.76,248.90)" font-size="22.70" fill="#fff">Impaired TC-NER</text>
<text transform="translate(479.7,40.70)" font-size="21.3" font-style="italic" letter-spacing="1.1" fill="#111" stroke="#111" stroke-width="0.3">CSB</text>
<text transform="translate(412.58,98.00)" font-size="20.23" fill="#111" stroke="#111" stroke-width="0.3">R571X</text>
<text transform="translate(529.99,98.00)" font-size="20.10" fill="#111" stroke="#111" stroke-width="0.3">R571X</text>
<text transform="translate(141.41,447.70)" font-size="19.85" fill="#111" stroke="#111" stroke-width="0.3">Dysmyelination</text>
<text transform="translate(187.65,503.20)" font-size="16.89" fill="#111" stroke="#111" stroke-width="0.3">Healthy</text>
<text transform="translate(267.15,503.20)" font-size="17.05" fill="#111" stroke="#111" stroke-width="0.3">CSB</text>
<text transform="translate(302.59,498.30)" font-size="11.36" fill="#111" stroke="#111" stroke-width="0.3">R571X/R571X</text>
<text transform="translate(210.13,730.90)" font-size="19.65" fill="#111" stroke="#111" stroke-width="0.3">Brain Atrophy</text>
<text transform="translate(616.71,314.20)" font-size="19.86" fill="#111" stroke="#111" stroke-width="0.3">UV light</text>
<text transform="translate(604.20,477.90)" font-size="19.99" fill="#111" stroke="#111" stroke-width="0.3">Defective CPD Removal</text>
<text transform="translate(620.31,543.40)" font-size="19.80" fill="#111" stroke="#111" stroke-width="0.3">UV light</text>
<text transform="translate(571.91,730.50)" font-size="19.87" fill="#111" stroke="#111" stroke-width="0.3">Failure of Transcription Restart</text>
<text transform="translate(635.44,394.80)" font-size="17.19" fill="#111" stroke="#111" stroke-width="0.3">CPD</text>
<text transform="translate(541.54,403.80)" font-size="16.50" fill="#111" stroke="#111" stroke-width="0.3">5&#8217;</text>
<text transform="translate(541.71,442.30) scale(0.984,1)" font-size="16.50" fill="#111" stroke="#111" stroke-width="0.3">3&#8217;</text>
<text transform="translate(871.89,403.80) scale(1.027,1)" font-size="16.50" fill="#111" stroke="#111" stroke-width="0.3">3&#8217;</text>
<text transform="translate(871.71,442.30) scale(1.042,1)" font-size="16.50" fill="#111" stroke="#111" stroke-width="0.3">5&#8217;</text>
<text transform="translate(618.71,636.75)" font-size="19.89" fill="#111" stroke="#111" stroke-width="0.3">RNAP II</text>
<text transform="translate(694.58,679.60)" font-size="17.20" fill="#111" stroke="#111" stroke-width="0.3">3&#39;OH</text>
</g>
</svg>
</body></html>
